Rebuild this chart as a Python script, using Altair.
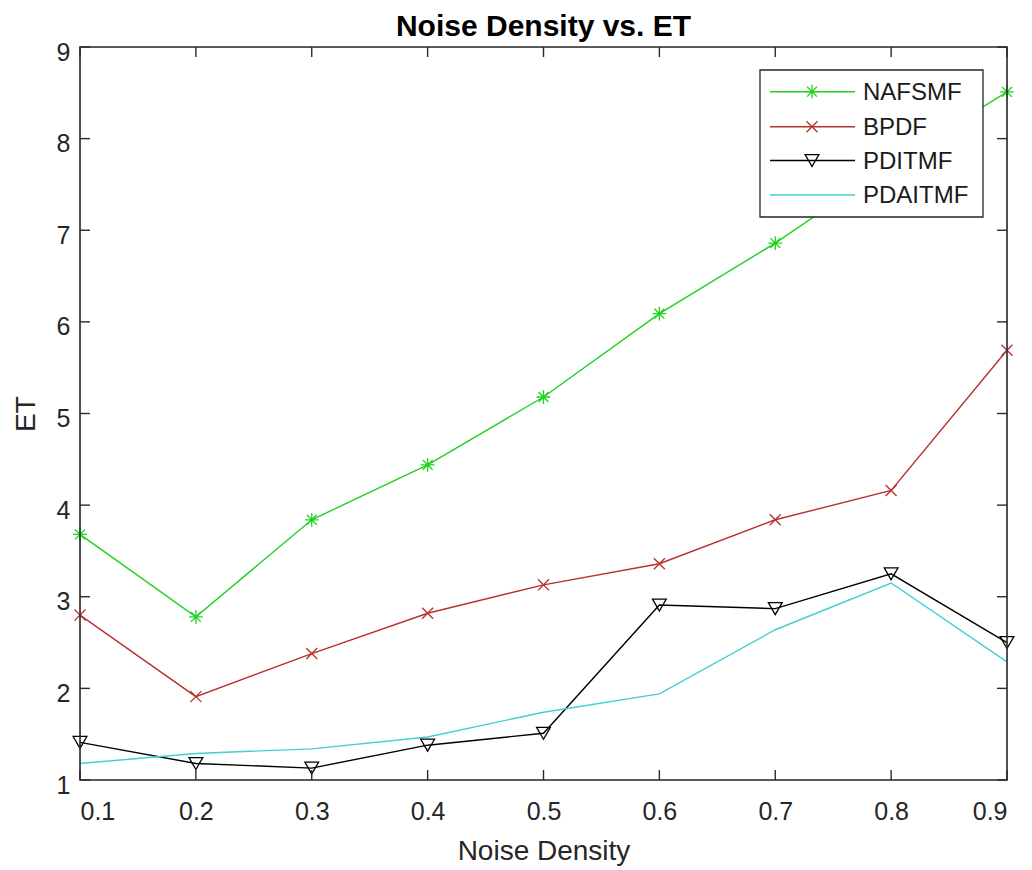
import altair as alt
import pandas as pd

# ---- data ----
noise_density = [0.1, 0.2, 0.3, 0.4, 0.5, 0.6, 0.7, 0.8, 0.9]
nafsmf = [3.68, 2.78, 3.84, 4.44, 5.18, 6.09, 6.86, 7.72, 8.51]
bpdf = [2.80, 1.91, 2.38, 2.82, 3.13, 3.36, 3.84, 4.16, 5.69]
pditmf = [1.41, 1.18, 1.13, 1.38, 1.51, 2.91, 2.87, 3.25, 2.50]
pdaitmf = [1.18, 1.29, 1.34, 1.47, 1.74, 1.94, 2.64, 3.15, 2.29]

series_names = ["NAFSMF", "BPDF", "PDITMF", "PDAITMF"]
series_values = [nafsmf, bpdf, pditmf, pdaitmf]
series_colors = ["#1ed21e", "#b8302f", "#000000", "#40d0d0"]

x_ticks = [0.1, 0.2, 0.3, 0.4, 0.5, 0.6, 0.7, 0.8, 0.9]
y_ticks = [1, 2, 3, 4, 5, 6, 7, 8, 9]

# marker paths (SVG, unit square)
ASTERISK = "M-1,0L1,0M0,-1L0,1M-0.72,-0.72L0.72,0.72M-0.72,0.72L0.72,-0.72"
XMARK = "M-0.8,-0.8L0.8,0.8M-0.8,0.8L0.8,-0.8"
marker_shapes = {"NAFSMF": ASTERISK, "BPDF": XMARK, "PDITMF": "triangle-down"}

rows = []
for name, vals in zip(series_names, series_values):
    for xv, yv in zip(noise_density, vals):
        rows.append({"Noise Density": xv, "ET": yv, "series": name})
df = pd.DataFrame(rows)

W, H = 927, 733
FONT = "Liberation Sans"
AX = "#262626"

xscale = alt.Scale(domain=[0.1, 0.9], nice=False, zero=False)
yscale = alt.Scale(domain=[1, 9], nice=False, zero=False)
color_scale = alt.Scale(domain=series_names, range=series_colors)

base = alt.Chart(df)

lines = base.mark_line(strokeWidth=1.4, clip=False).encode(
    x=alt.X("Noise Density:Q", scale=xscale,
            axis=alt.Axis(values=x_ticks, format=".1f", ticks=False, domain=False, grid=False,
                          labelFontSize=25, labelFont=FONT, labelColor=AX, labelPadding=19,
                          title="Noise Density", titleFontSize=28, titleFont=FONT,
                          titleColor=AX, titleFontWeight="normal", titlePadding=13)),
    y=alt.Y("ET:Q", scale=yscale,
            axis=alt.Axis(values=y_ticks, format="d", ticks=False, domain=False, grid=False,
                          labelFontSize=25, labelFont=FONT, labelColor=AX, labelPadding=10,
                          labelOffset=5,
                          title="ET", titleFontSize=28, titleFont=FONT,
                          titleColor=AX, titleFontWeight="normal", titlePadding=16)),
    color=alt.Color("series:N", scale=color_scale, legend=None),
    detail="series:N",
)

mk_names = [n for n in series_names if n in marker_shapes]
points = base.transform_filter(
    alt.FieldOneOfPredicate(field="series", oneOf=mk_names)
).mark_point(filled=False, size=190, strokeWidth=1.3, opacity=1, clip=False).encode(
    x=alt.X("Noise Density:Q", scale=xscale),
    y=alt.Y("ET:Q", scale=yscale),
    stroke=alt.Stroke("series:N", scale=color_scale, legend=None),
    shape=alt.Shape("series:N",
                    scale=alt.Scale(domain=mk_names, range=[marker_shapes[n] for n in mk_names]),
                    legend=None),
)

one = alt.Data(values=[{}])

# axes box
box = alt.Chart(one).mark_rect(fill=None, stroke="#2b2b2b", strokeWidth=1.6).encode(
    x=alt.value(0), x2=alt.value(W), y=alt.value(0), y2=alt.value(H))

# inward tick marks on all four sides (MATLAB style)
xt = alt.Chart(pd.DataFrame({"t": x_ticks}))
yt = alt.Chart(pd.DataFrame({"t": y_ticks}))
TL = 10
tick_style = dict(color="#2b2b2b", strokeWidth=1.4)
xticks_bottom = xt.mark_rule(**tick_style).encode(
    x=alt.X("t:Q", scale=xscale), y=alt.value(H), y2=alt.value(H - TL))
xticks_top = xt.mark_rule(**tick_style).encode(
    x=alt.X("t:Q", scale=xscale), y=alt.value(0), y2=alt.value(TL))
yticks_left = yt.mark_rule(**tick_style).encode(
    y=alt.Y("t:Q", scale=yscale), x=alt.value(0), x2=alt.value(TL))
yticks_right = yt.mark_rule(**tick_style).encode(
    y=alt.Y("t:Q", scale=yscale), x=alt.value(W), x2=alt.value(W - TL))

# legend box drawn manually (MATLAB style, line + marker sample)
LX0, LX1, LY0, LY1 = 680, 903, 23, 170
legend_layers = [
    alt.Chart(one).mark_rect(fill="white", stroke="#262626", strokeWidth=1.3).encode(
        x=alt.value(LX0), x2=alt.value(LX1), y=alt.value(LY0), y2=alt.value(LY1))
]
entry_y = [44.7, 79.7, 113.5, 148]
for name, col, ey in zip(series_names, series_colors, entry_y):
    legend_layers.append(
        alt.Chart(one).mark_rule(color=col, strokeWidth=1.4).encode(
            x=alt.value(690), x2=alt.value(775), y=alt.value(ey)))
    if name in marker_shapes:
        legend_layers.append(
            alt.Chart(one).mark_point(shape=marker_shapes[name], filled=False, size=190,
                                      strokeWidth=1.3, color=col, opacity=1).encode(
                x=alt.value(732), y=alt.value(ey)))
    legend_layers.append(
        alt.Chart(one).mark_text(text=name, align="left", baseline="middle", fontSize=24,
                                 font=FONT, color="#1a1a1a").encode(
            x=alt.value(783), y=alt.value(ey + 1)))

chart = alt.layer(
    lines, points, box, xticks_bottom, xticks_top, yticks_left, yticks_right, *legend_layers
).properties(
    width=W, height=H,
    title=alt.TitleParams("Noise Density vs. ET", fontSize=30, fontWeight="bold", font=FONT,
                          color="#000000", offset=8, dy=10, anchor="middle"),
    autosize=alt.AutoSizeParams(type="none"),
    padding={"left": 80, "top": 47, "right": 25, "bottom": 90},
).configure_view(
    stroke=None
).configure(background="white")

chart.save("out.html", embed_options={"renderer": "svg", "actions": False})
